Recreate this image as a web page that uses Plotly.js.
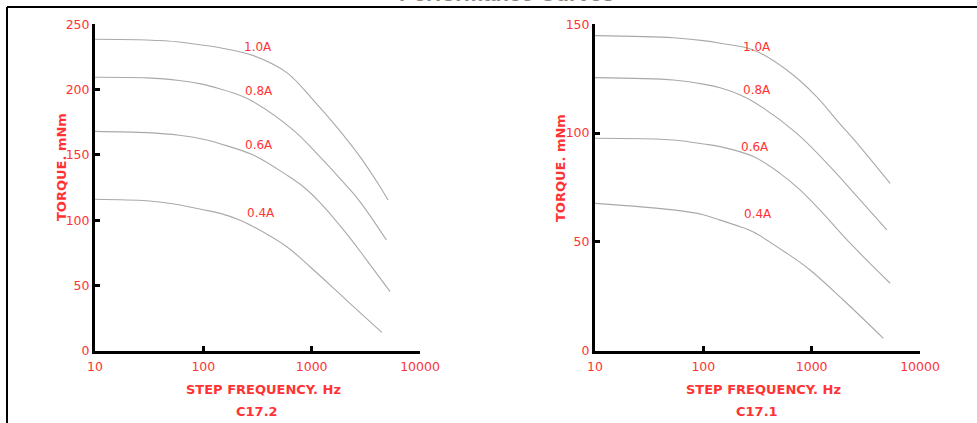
<!DOCTYPE html>
<html>
<head>
<meta charset="utf-8">
<script src="https://cdn.plot.ly/plotly-3.0.1.min.js"></script>
<style>html,body{margin:0;padding:0;background:#fff;}#chart{width:977px;height:423px;}</style>
</head>
<body>
<div id="chart"></div>
<script>
// ---- Data: C17.2 (left chart) ----
const freqL10 = [10, 30, 60, 100, 143, 290, 589, 1035, 1700, 2800, 4280, 5070];
const torqueL10 = [238.5, 238, 236.5, 234, 232, 226, 213, 192, 171.5, 148.5, 125.6, 115.4];
const freqL08 = [10, 30, 60, 100, 143, 219, 290, 677, 1195, 2090, 2800, 4900];
const torqueL08 = [209.5, 209, 207, 204, 200.5, 195.5, 190.7, 169, 148.5, 126.5, 114, 84.8];
const freqL06 = [10, 30, 60, 100, 143, 290, 589, 838, 1195, 2090, 3220, 5300];
const torqueL06 = [168, 167, 165, 162, 158.5, 149.8, 134.5, 125.6, 113.5, 89.9, 69.4, 45.2];
const freqL04 = [10, 30, 52, 100, 143, 219, 290, 589, 966, 2090, 4440];
const torqueL04 = [116, 114.8, 112.5, 108, 105.2, 100, 95, 79.6, 64.3, 38.8, 14];

// ---- Data: C17.1 (right chart) ----
const freqR10 = [10, 53, 100, 143, 290, 589, 1115, 1700, 2800, 5300];
const torqueR10 = [144.8, 143.8, 142.5, 141.3, 138.2, 129, 116.7, 106, 93.7, 76.9];
const freqR08 = [10, 53, 100, 143, 219, 290, 728, 1585, 2630, 4940];
const torqueR08 = [125.5, 124.4, 122.5, 120.8, 117.5, 114.4, 99.9, 83, 70.8, 55.5];
const freqR06 = [10, 53, 100, 143, 290, 510, 781, 1195, 2265, 5300];
const torqueR06 = [97.6, 96.8, 95, 93.8, 89.2, 81.5, 73.9, 64.6, 49.4, 31];
const freqR04 = [10, 53, 100, 143, 219, 290, 589, 966, 1960, 4590];
const torqueR04 = [67.7, 64.7, 62.5, 60, 57, 54.5, 44.8, 37.1, 23.3, 5.7];

// ---- Labels / ticks ----
const currentLabels = ['1.0A', '0.8A', '0.6A', '0.4A'];
const xTickVals = [10, 100, 1000, 10000];
const xTickText = ['10', '100', '1000', '10000'];
const yTickValsL = [0, 50, 100, 150, 200, 250];
const yTickValsR = [0, 50, 100, 150];
const xTitle = 'STEP FREQUENCY. Hz';
const yTitle = 'TORQUE. mNm';
const chartNames = ['C17.2', 'C17.1'];
const mainTitle = 'Performance Curves';

const W = 977, H = 423;
const px = x => x / W;
const py = y => 1 - y / H;
const RED = '#ff3333';
const GRAY = '#a9a9a9';

const lineStyle = {color: GRAY, width: 1.1, shape: 'spline', smoothing: 1.0};
function tr(x, y, xa, ya) {
  return {x: x, y: y, xaxis: xa, yaxis: ya, mode: 'lines', line: lineStyle, hoverinfo: 'skip', showlegend: false};
}
const data = [
  tr(freqL10, torqueL10, 'x', 'y'),
  tr(freqL08, torqueL08, 'x', 'y'),
  tr(freqL06, torqueL06, 'x', 'y'),
  tr(freqL04, torqueL04, 'x', 'y'),
  tr(freqR10, torqueR10, 'x2', 'y2'),
  tr(freqR08, torqueR08, 'x2', 'y2'),
  tr(freqR06, torqueR06, 'x2', 'y2'),
  tr(freqR04, torqueR04, 'x2', 'y2')
];

const tickFont = {family: 'DejaVu Sans, Arial, sans-serif', size: 12.5, color: RED};
function xAxis(domain, anchor) {
  return {
    type: 'log', range: [1, 4], domain: domain, anchor: anchor,
    showline: true, linewidth: 3, linecolor: '#000', mirror: false,
    ticks: 'inside', ticklen: 5, tickwidth: 3, tickcolor: '#000',
    tickvals: xTickVals, ticktext: xTickText, tickfont: tickFont,
    ticklabelstandoff: 2,
    showgrid: false, zeroline: false, fixedrange: true
  };
}
function yAxis(range, vals, anchor) {
  return {
    range: range, domain: [py(350.7), py(24.3)], anchor: anchor,
    showline: true, linewidth: 3, linecolor: '#000', mirror: false,
    ticks: 'inside', ticklen: 5, tickwidth: 3, tickcolor: '#000',
    tickvals: vals, tickfont: tickFont,
    showgrid: false, zeroline: false, fixedrange: true
  };
}

const lblFont = {family: 'DejaVu Sans, Arial, sans-serif', size: 12, color: RED};
const boldFont = {family: 'DejaVu Sans, Arial, sans-serif', size: 13, color: RED, weight: 'bold'};
function ann(text, x, y, font, extra) {
  return Object.assign({text: text, x: px(x), y: py(y), xref: 'paper', yref: 'paper',
    showarrow: false, xanchor: 'center', yanchor: 'middle', font: font}, extra || {});
}
const labelPosL = [[257.5, 47], [258.5, 91], [259, 145], [261, 213]];
const labelPosR = [[757, 46.7], [757, 90], [755, 146.7], [758, 214]];
const annotations = [];
currentLabels.forEach((t, i) => {
  annotations.push(ann(t, labelPosL[i][0], labelPosL[i][1], lblFont));
  annotations.push(ann(t, labelPosR[i][0], labelPosR[i][1], lblFont));
});
annotations.push(ann(xTitle, 263.5, 389, boldFont));
annotations.push(ann(xTitle, 763.5, 389, boldFont));
annotations.push(ann(chartNames[0], 257, 411, boldFont));
annotations.push(ann(chartNames[1], 757, 411, boldFont));
annotations.push(ann(yTitle, 61, 167, boldFont, {textangle: -90}));
annotations.push(ann(yTitle, 560, 168, boldFont, {textangle: -90}));
annotations.push(ann(mainTitle, 506, -6.5, {family: 'Liberation Sans, Arial, sans-serif', size: 22, color: '#888', weight: 'bold'}));

const layout = {
  width: W, height: H,
  margin: {l: 0, r: 0, t: 0, b: 0},
  paper_bgcolor: '#fff', plot_bgcolor: 'rgba(0,0,0,0)',
  showlegend: false,
  xaxis: xAxis([px(95), px(420)], 'y'),
  yaxis: yAxis([0, 250], yTickValsL, 'x'),
  xaxis2: xAxis([px(595), px(920)], 'y2'),
  yaxis2: yAxis([0, 150], yTickValsR, 'x2'),
  annotations: annotations,
  shapes: [
    {type: 'line', xref: 'paper', yref: 'paper', x0: px(7), y0: py(7), x1: px(977), y1: py(7), line: {color: '#000', width: 2}},
    {type: 'line', xref: 'paper', yref: 'paper', x0: px(7), y0: py(7), x1: px(7), y1: py(423), line: {color: '#000', width: 2}}
  ]
};

Plotly.newPlot('chart', data, layout, {displayModeBar: false, staticPlot: true});
</script>
</body>
</html>
